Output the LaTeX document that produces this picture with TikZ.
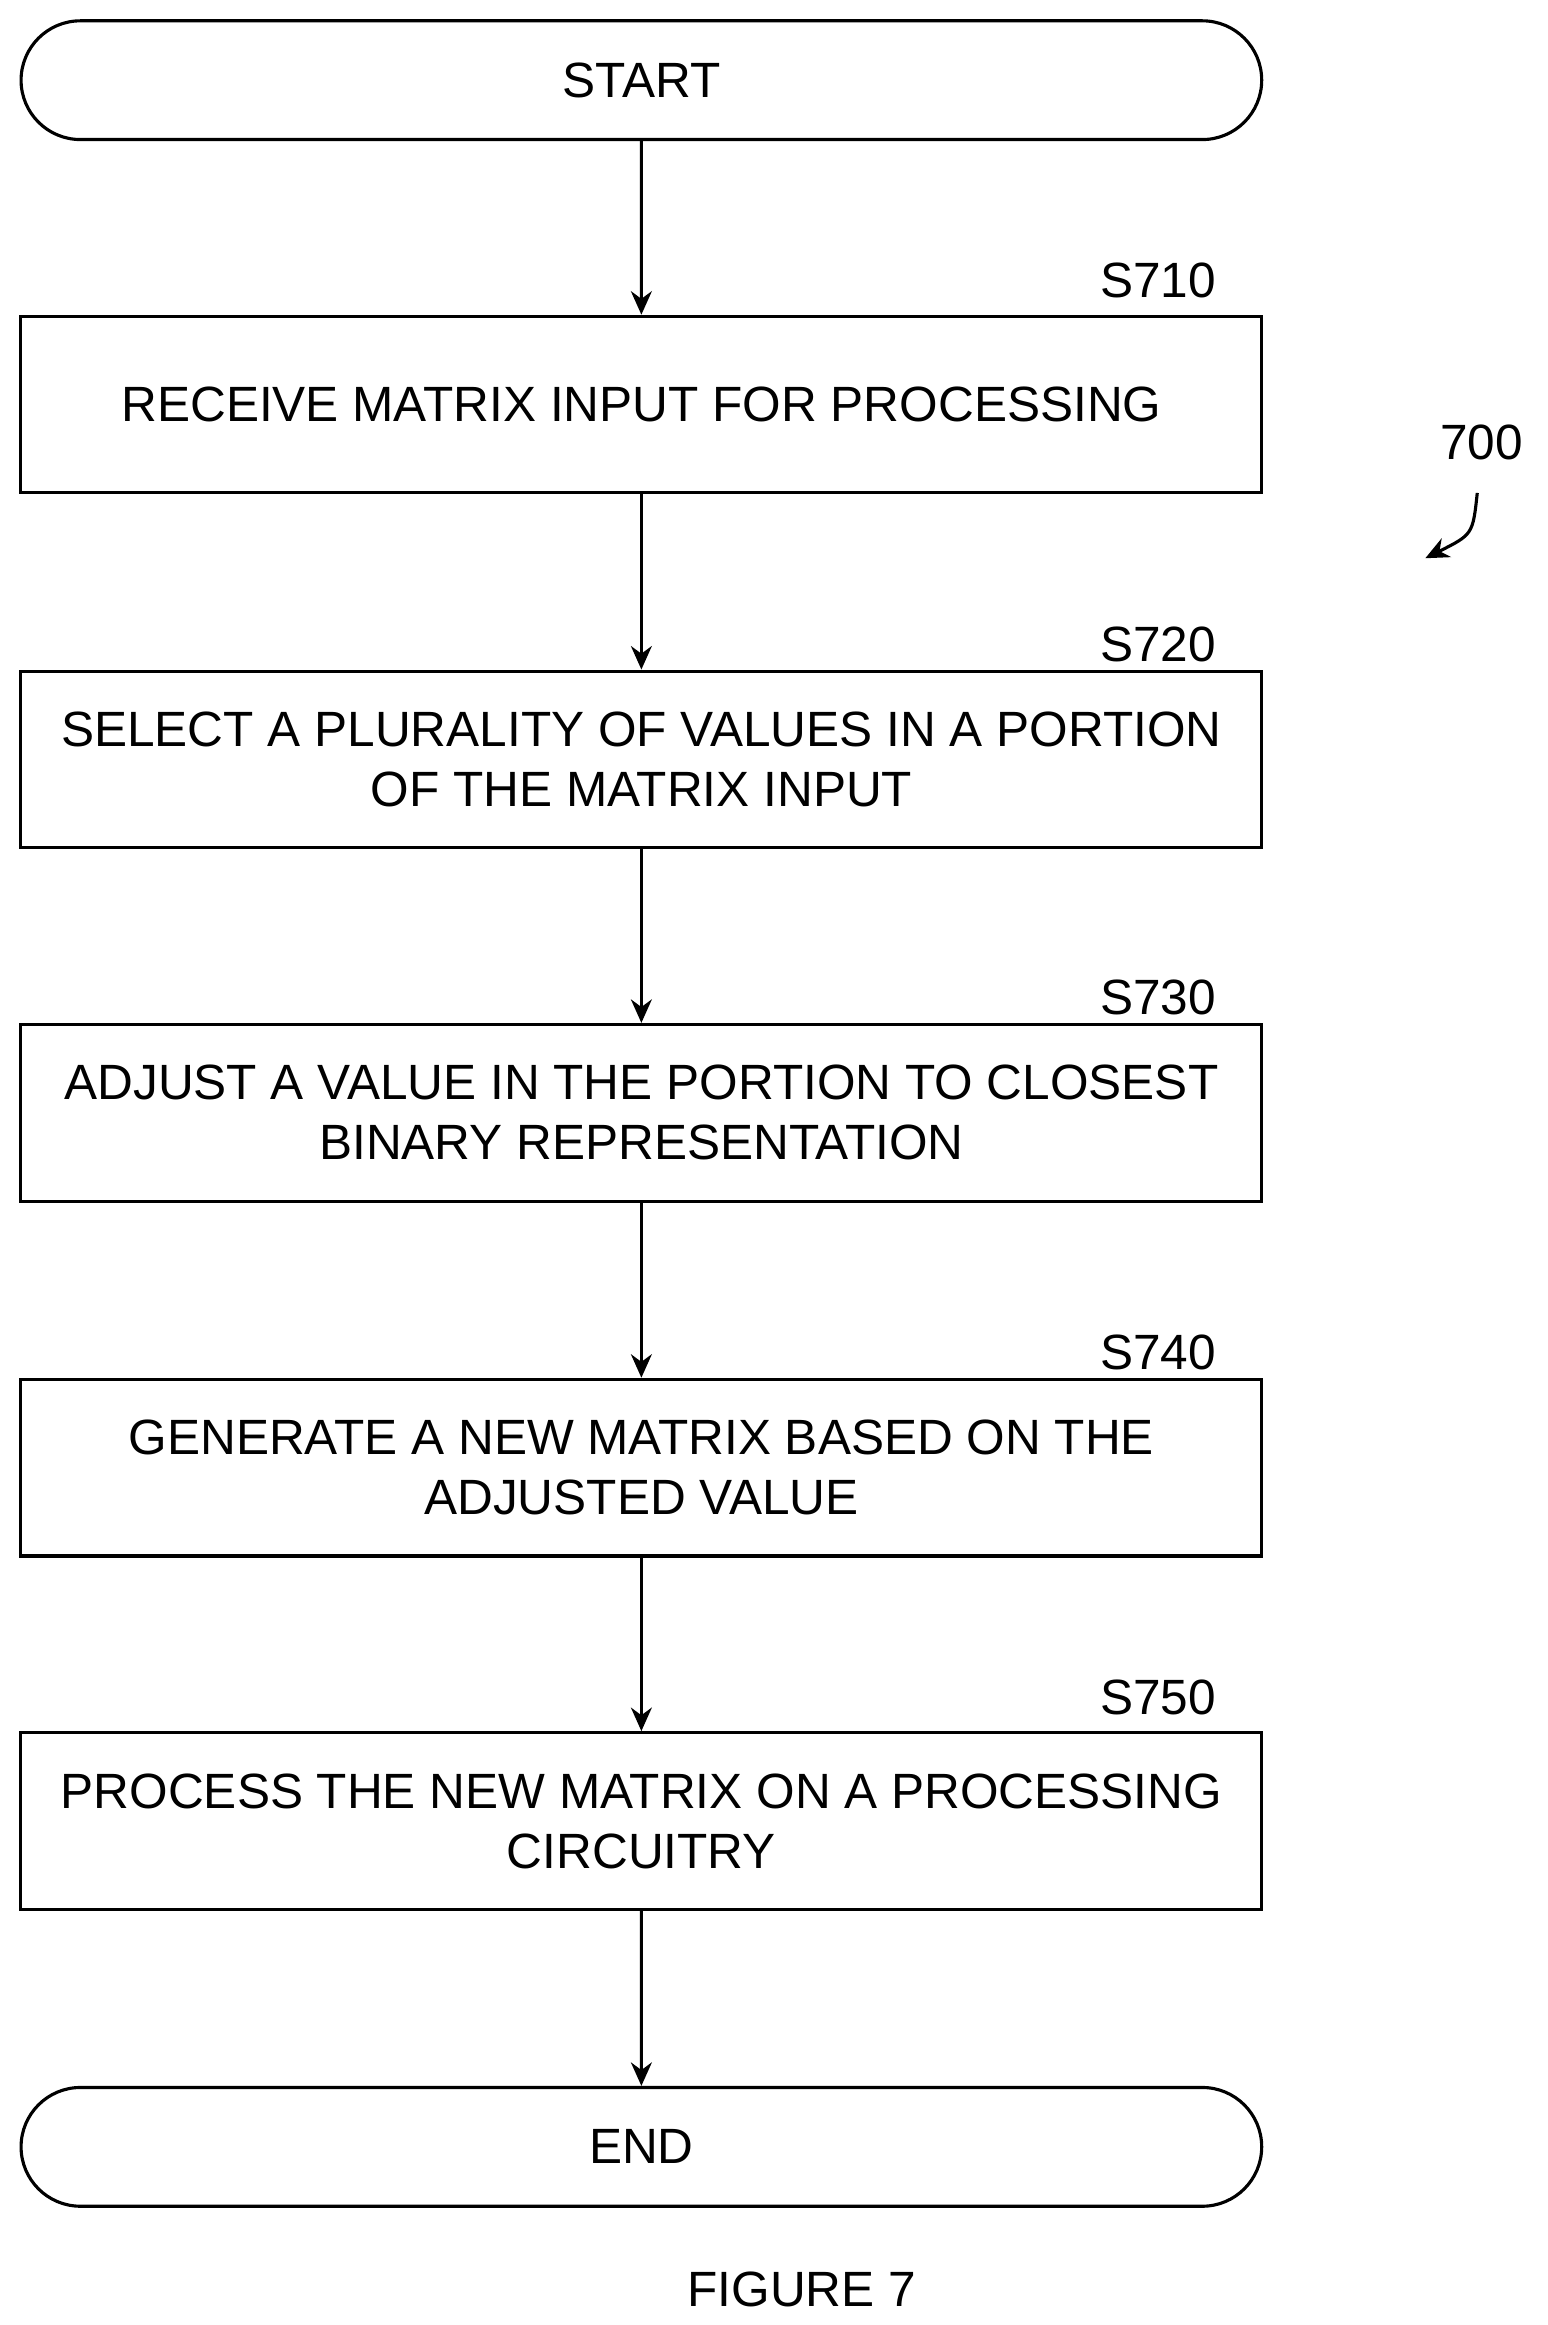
\documentclass[tikz,border=0pt]{standalone}
\usepackage{fontspec}
\setmainfont{Liberation Sans}
\usetikzlibrary{positioning, arrows.meta, shapes.misc}
\tikzset{
  stepbox/.style={draw, line width=1.2pt, minimum width=16.72cm, minimum height=2.38cm, align=center, font=\fontsize{19}{23}\selectfont},
  term/.style={draw, line width=1.2pt, rounded rectangle, minimum width=16.95cm, minimum height=1.6cm, font=\fontsize{19}{23}\selectfont},
  tag/.style={font=\fontsize{19}{23}\selectfont},
  arrow/.style={line width=1.2pt, -{Stealth[length=9pt,width=8pt]}}
}
\begin{document}
\begin{tikzpicture}[x=0.02cm,y=-0.02cm]
    \useasboundingbox (0,0) rectangle (1042,1566);
   	\node[term](start) at (432,54){START};
   	\node[stepbox](s710) at (432,272.5){RECEIVE MATRIX INPUT FOR PROCESSING};
   	\node[stepbox](s720) at (432,511.5){SELECT A PLURALITY OF VALUES IN A PORTION\\OF THE MATRIX INPUT};
   	\node[stepbox](s730) at (432,749.5){ADJUST A VALUE IN THE PORTION TO CLOSEST\\BINARY REPRESENTATION};
   	\node[stepbox](s740) at (432,988.5){GENERATE A NEW MATRIX BASED ON THE\\ADJUSTED VALUE};
   	\node[stepbox](s750) at (432,1226.5){PROCESS THE NEW MATRIX ON A PROCESSING\\CIRCUITRY};
   	\node[term](end) at (432,1446){END};
   	\node[tag](l710) at (780,189){S710};
   	\node[tag](l720) at (780,434){S720};
   	\node[tag](l730) at (780,672){S730};
   	\node[tag](l740) at (780,911){S740};
   	\node[tag](l750) at (780,1143){S750};
   	\node[tag](num) at (998,298){700};
   	\node[tag](fig) at (540,1542){FIGURE 7};
   	\coordinate (c1) at (995,332);
   	\coordinate (c2) at (960,376);
    \draw[arrow] (start) -- (s710);
    \draw[arrow] (s710) -- (s720);
    \draw[arrow] (s720) -- (s730);
    \draw[arrow] (s730) -- (s740);
    \draw[arrow] (s740) -- (s750);
    \draw[arrow] (s750) -- (end);
    \draw[arrow] (c1) .. controls (992,360) .. (c2);
\end{tikzpicture}
\end{document}
